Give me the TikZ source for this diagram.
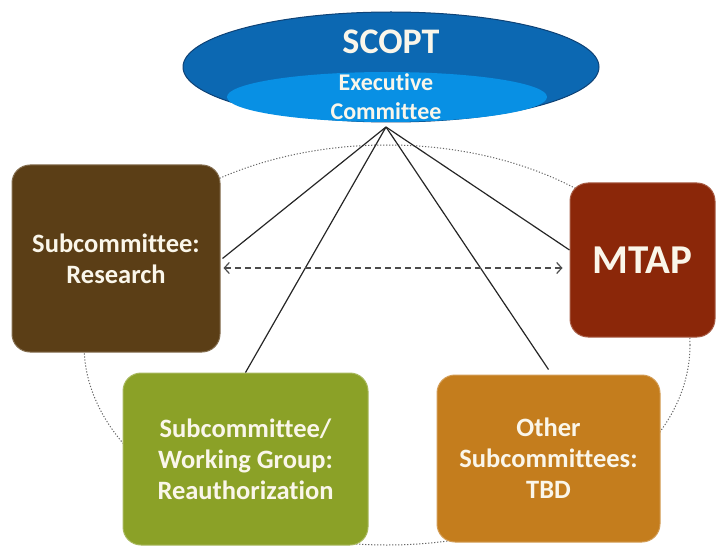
\documentclass[tikz,border=0pt]{standalone}
\usepackage{fontspec}
\setmainfont{Carlito}[Ligatures={NoCommon}]
\usetikzlibrary{arrows.meta,positioning,calc,shapes.geometric}
\definecolor{ScoptAzul}{RGB}{12,104,178}
\definecolor{ScoptBorde}{RGB}{14,66,118}
\definecolor{ExecAzul}{RGB}{8,144,228}
\definecolor{ResCafe}{RGB}{91,62,22}
\definecolor{MtapRojo}{RGB}{139,39,9}
\definecolor{ReauthOliva}{RGB}{139,161,39}
\definecolor{OtroNaranja}{RGB}{196,125,29}
\definecolor{Crema}{RGB}{250,246,234}
\tikzset{
  subbox/.style={rectangle, rounded corners=18pt, fill=#1, draw=#1!75!white, line width=1pt,
    text=Crema, align=center, inner sep=0pt,
    font=\fontsize{26.5}{31}\selectfont\bfseries},
  subbox/.default=ResCafe,
  ellbox/.style={ellipse, fill=#1, inner sep=0pt},
  linkline/.style={line width=1.2pt, black!85},
  peerarr/.style={{Straight Barb[length=5pt, width=11pt]}-{Straight Barb[length=5pt, width=11pt]},
    dash pattern=on 6pt off 4pt, line width=1.2pt, black!70},
  ringline/.style={dash pattern=on 1.2pt off 1.8pt, line width=1pt, black!60},
}
\begin{document}
\begin{tikzpicture}[x=1pt, y=-1pt]
    \useasboundingbox (0,0) rectangle (717,548);
    % ---- anillo punteado ----
    \draw[ringline] (387,345) ellipse [x radius=303pt, y radius=200pt];
    % ---- SCOPT ----
    \node[ellbox=ScoptAzul, draw=ScoptBorde, line width=1pt, minimum width=416pt, minimum height=110pt] (scopt) at (391,67) {};
    \node[ellbox=ExecAzul, minimum width=320pt, minimum height=50pt] (exec) at (387,97) {};
    \node[text=Crema, font=\fontsize{36}{40}\selectfont\bfseries] (scopttxt) at (391,42) {SCOPT};
    \node[text=Crema, align=center, font=\fontsize{24}{29}\selectfont\bfseries] (exectxt) at (386,97) {Executive\\Committee};
    \coordinate (apex) at (386,127);
    % ---- subcomites ----
    \node[subbox=ResCafe, minimum width=208pt, minimum height=187pt] (research) at (116,258.5) {Subcommittee:\\Research};
    \node[subbox=MtapRojo, minimum width=145pt, minimum height=154pt, font=\fontsize{41}{46}\selectfont\bfseries] (mtap) at (642.5,260) {MTAP};
    \node[subbox=ReauthOliva, minimum width=245pt, minimum height=172pt] (reauth) at (245.5,459) {Subcommittee/\\Working Group:\\Reauthorization};
    \node[subbox=OtroNaranja, minimum width=223pt, minimum height=167pt] (other) at (548.5,458.5) {Other\\Subcommittees:\\TBD};
    % ---- conexiones ----
    \draw[linkline] (apex) -- ([xshift=2pt]research.east);
    \draw[linkline] (apex) -- (reauth.north);
    \draw[linkline] (apex) -- ([yshift=5pt]other.north);
    \draw[linkline] (apex) -- ([yshift=10pt]mtap.west);
    \draw[peerarr] ([xshift=3pt, yshift=-9.5pt]research.east) -- ([xshift=-7pt, yshift=-8pt]mtap.west);
\end{tikzpicture}
\end{document}
